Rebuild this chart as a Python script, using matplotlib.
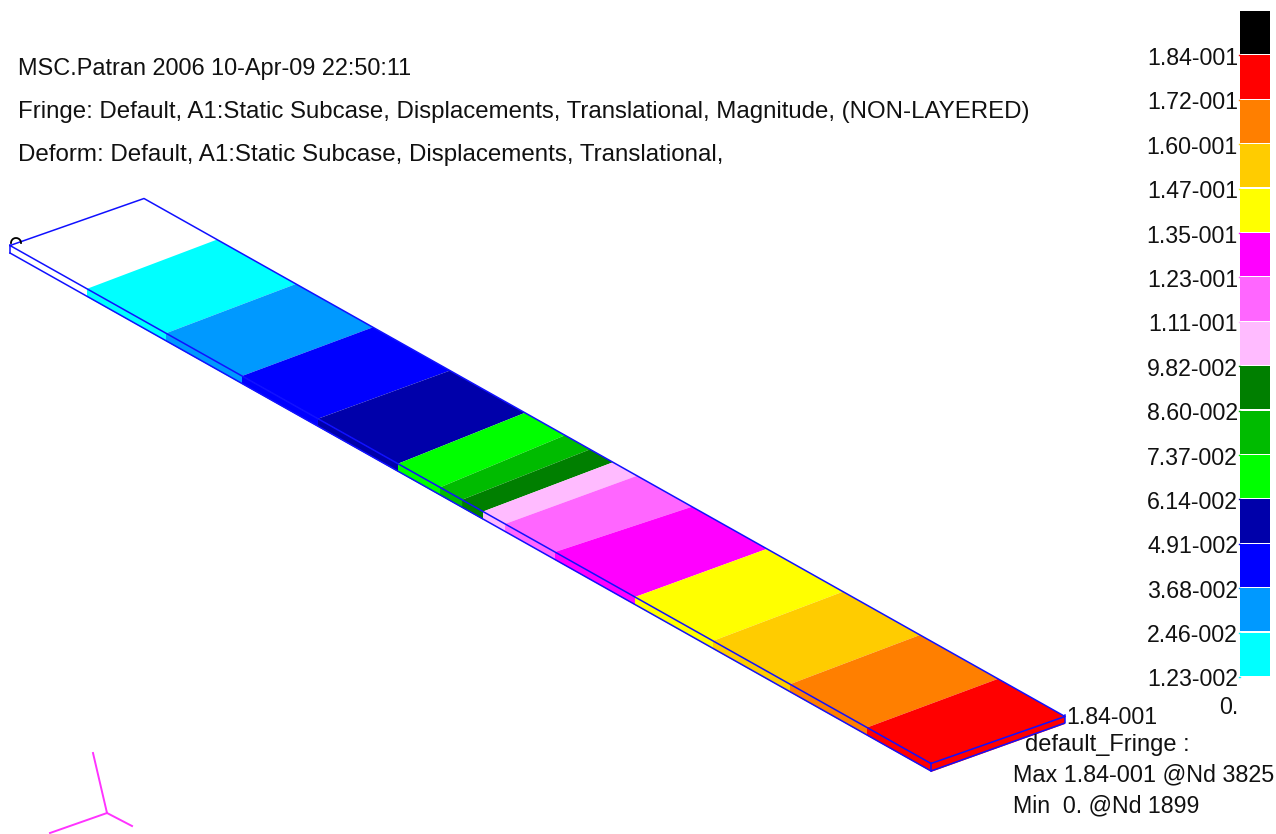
import matplotlib
matplotlib.use("Agg")
import matplotlib.pyplot as plt
from matplotlib.patches import Arc
from matplotlib.transforms import Affine2D

plt.rcParams['font.family'] = ['Liberation Sans', 'DejaVu Sans']

# fringe band limits as fraction of plate length, read on both long edges
near_edges = [0.0836, 0.1694, 0.2519, 0.3344, 0.4213, 0.4669, 0.4908, 0.5136,
              0.5375, 0.5917, 0.6786, 0.7633, 0.8469, 0.9305, 1.0]
far_edges = [0.0793, 0.165, 0.2486, 0.3322, 0.4137, 0.4571, 0.4843, 0.5092,
             0.5353, 0.595, 0.6764, 0.759, 0.8426, 0.9273, 1.0]
band_colors = ['#00FFFF', '#0099FF', '#0000FF', '#0000AA', '#00FF00', '#00BB00',
               '#007F00', '#FFBBFF', '#FF66FF', '#FF00FF', '#FFFF00', '#FFCC00',
               '#FF7F00', '#FF0000']

# spectrum from top to bottom
legend_colors = ['#000000', '#FF0000', '#FF7F00', '#FFCC00', '#FFFF00', '#FF00FF',
                 '#FF66FF', '#FFBBFF', '#007F00', '#00BB00', '#00FF00', '#0000AA',
                 '#0000FF', '#0099FF', '#00FFFF']
legend_labels = ['1.84-001', '1.72-001', '1.60-001', '1.47-001', '1.35-001',
                 '1.23-001', '1.11-001', '9.82-002', '8.60-002', '7.37-002',
                 '6.14-002', '4.91-002', '3.68-002', '2.46-002', '1.23-002']

header_lines = ['MSC.Patran 2006 10-Apr-09 22:50:11',
                'Fringe: Default, A1:Static Subcase, Displacements, Translational, Magnitude, (NON-LAYERED)',
                'Deform: Default, A1:Static Subcase, Displacements, Translational,']
header_sizes = [16.9, 17.3, 17.35]

fig = plt.figure(figsize=(12.76, 8.34), dpi=100)
ax = fig.add_axes([0, 0, 1, 1])
ax.set_xlim(0, 1276)
ax.set_ylim(834, 0)
ax.axis('off')

# plate coords: u along the length, v across (0 = near edge, 1 = far edge)
plate = Affine2D.from_values(921, 518, 134, -47, 10, 245.5) + ax.transData
# same plate, shifted down by its thickness
lower = plate + Affine2D().translate(0, -8)

for i, c in enumerate(band_colors):
    ax.fill([near_edges[i], near_edges[i + 1], far_edges[i + 1], far_edges[i]], [0, 0, 1, 1],
            color=c, lw=0, transform=plate, zorder=2)
    # side face below the near edge
    top = plate.transform([(near_edges[i], 0), (near_edges[i + 1], 0)])
    bottom = lower.transform([(near_edges[i + 1], 0), (near_edges[i], 0)])
    side = ax.transData.inverted().transform(list(top) + list(bottom))
    ax.fill(side[:, 0], side[:, 1], color=c, lw=0, zorder=1)

# red side face at the tip
ax.fill([931, 1065, 1065, 931], [763, 715, 724, 772], color='#FF0000', lw=0, zorder=1)

# plate outline
blue = '#1010FF'
ax.plot([0, 1, 1, 0, 0], [0, 0, 1, 1, 0], color=blue, lw=1.1, transform=plate, zorder=3)
ax.plot([10, 931, 1065, 1065], [253, 771, 723, 715], color=blue, lw=1.1, zorder=3)
ax.plot([10, 10], [245, 253], color=blue, lw=1.1, zorder=3)
ax.plot([931, 931], [763, 771], color=blue, lw=1.1, zorder=3)

ax.add_patch(Arc((16, 243), 10, 10, theta1=170, theta2=370, color='black', lw=1.3, zorder=4))

# coordinate triad
for tx, ty in [(93, 753), (50, 833), (132, 826)]:
    ax.plot([107, tx], [813, ty], color='#FF33FF', lw=1.4, zorder=3)

# spectrum bar
bar_top = 11
bar_h = 44.4
for i, c in enumerate(legend_colors):
    ax.bar(1255, bar_h - 1.2, width=30, bottom=bar_top + i * bar_h, color=c, lw=0, zorder=2)
for i, lab in enumerate(legend_labels):
    y = bar_top + (i + 1) * bar_h
    ax.text(1238, y + 3, lab, ha='right', va='center', fontsize=16.7, color='#111111')
    ax.plot([1238.5, 1240], [y, y], color=legend_colors[min(i + 1, 14)], lw=1)
ax.text(1238, 708, '0.', ha='right', va='center', fontsize=16.7, color='#111111')

for y, line, size in zip([68, 112, 155], header_lines, header_sizes):
    ax.text(18, y, line, ha='left', va='center', fontsize=size, color='#111111')

ax.text(1066, 718, '1.84-001', ha='left', va='center', fontsize=16.7, color='#111111')
ax.text(1025, 745, 'default_Fringe :', ha='left', va='center', fontsize=17, color='#111111')
ax.text(1013, 775, 'Max 1.84-001 @Nd 3825', ha='left', va='center', fontsize=16.8, color='#111111')
ax.text(1013, 806, 'Min  0. @Nd 1899', ha='left', va='center', fontsize=16.7, color='#111111')

fig.savefig('out.png', dpi=100)
plt.close(fig)
